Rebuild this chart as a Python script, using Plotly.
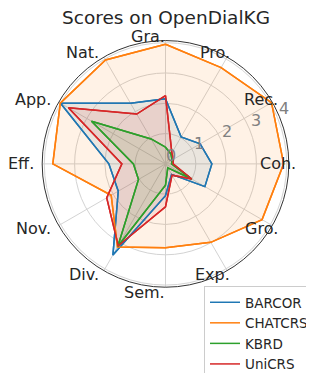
import math
import plotly.graph_objects as go

categories = ["Gra.", "Pro.", "Rec.", "Coh.", "Gro.", "Exp.", "Sem.", "Div.", "Nov.", "Eff.", "App.", "Nat."]
models = ["BARCOR", "CHATCRS", "KBRD", "UniCRS"]
barcor = [2.15, 1.03, 1.32, 1.53, 1.50, 0.40, 1.05, 3.47, 1.80, 1.87, 4.00, 2.31]
chatcrs = [3.95, 3.67, 4.04, 3.90, 3.68, 2.99, 2.77, 3.17, 2.07, 3.72, 4.01, 3.96]
kbrd = [0.55, 0.37, 0.25, 0.20, 1.00, 0.15, 0.70, 3.15, 1.03, 1.06, 2.82, 0.95]
unicrs = [2.25, 0.42, 0.30, 0.25, 1.00, 0.43, 1.42, 3.12, 2.24, 1.44, 3.70, 1.90]
radial_ticks = [0, 1, 2, 3, 4]
title_text = "Scores on OpenDialKG"

series = [barcor, chatcrs, kbrd, unicrs]
colors = ["#1f77b4", "#ff7f0e", "#2ca02c", "#d62728"]
fills = ["rgba(31,119,180,0.1)", "rgba(255,127,14,0.1)", "rgba(44,160,44,0.1)", "rgba(214,39,40,0.1)"]

W, H = 314, 373
CX, CY, R = 157.5, 158.0, 125.0
RMAX = 4.07
FONT = "DejaVu Sans"

fig = go.Figure()
theta_closed = categories + [categories[0]]
for name, vals, c, f in zip(models, series, colors, fills):
    fig.add_trace(go.Scatterpolar(
        r=vals + [vals[0]], theta=theta_closed, mode="lines",
        fill="toself", fillcolor=f, line=dict(color=c, width=1.5),
        name=name, showlegend=False, hoverinfo="skip"))
for name, vals, c in zip(models, series, colors):
    fig.add_trace(go.Scatterpolar(
        r=vals + [vals[0]], theta=theta_closed, mode="lines",
        line=dict(color=c, width=1.5), name=name, showlegend=True))

annotations = []
n = len(categories)
for i, cat in enumerate(categories):
    ang = math.radians(90 - i * 360 / n)
    px = CX + 131 * math.cos(ang)
    py = CY - 130 * math.sin(ang)
    if i == 0:
        py += 1
    annotations.append(dict(
        text=cat, x=px / W, y=1 - py / H, xref="paper", yref="paper",
        xanchor="right", yanchor="middle", showarrow=False, borderpad=0,
        font=dict(family=FONT, size=16, color="#262626")))

ra = math.radians(22.5)
for t in radial_ticks:
    rp = t * R / RMAX
    px = CX + rp * math.cos(ra) + 5
    py = CY - rp * math.sin(ra) - 9
    annotations.append(dict(
        text=str(t), x=px / W, y=1 - py / H, xref="paper", yref="paper",
        xanchor="center", yanchor="middle", showarrow=False, borderpad=0,
        font=dict(family=FONT, size=16, color="#808080")))

annotations.append(dict(
    text=title_text, x=CX / W, y=1 - 9.5 / H, xref="paper", yref="paper",
    xanchor="center", yanchor="middle", showarrow=False, borderpad=0,
    font=dict(family=FONT, size=18.5, color="#262626")))

fig.update_layout(
    width=W, height=H,
    margin=dict(l=0, r=0, t=0, b=0),
    paper_bgcolor="white",
    font=dict(family=FONT),
    annotations=annotations,
    polar=dict(
        domain=dict(x=[(CX - R) / W, (CX + R) / W], y=[1 - (CY + R) / H, 1 - (CY - R) / H]),
        bgcolor="white",
        angularaxis=dict(
            type="category", direction="clockwise", rotation=90,
            showticklabels=False, ticks="",
            showline=True, linecolor="#333333", linewidth=1,
            showgrid=True, gridcolor="#d3d3d3", gridwidth=0.8),
        radialaxis=dict(
            range=[0, RMAX], tickvals=radial_ticks, showticklabels=False,
            angle=22.5, showline=False, ticks="",
            showgrid=True, gridcolor="#d3d3d3", gridwidth=0.8)),
    legend=dict(
        x=196 / W, y=1 - 282 / H, xanchor="left", yanchor="top",
        bgcolor="rgba(255,255,255,0.8)", bordercolor="#cccccc", borderwidth=1,
        font=dict(family=FONT, size=13.5, color="#262626")),
)

fig.write_html("out.html")
